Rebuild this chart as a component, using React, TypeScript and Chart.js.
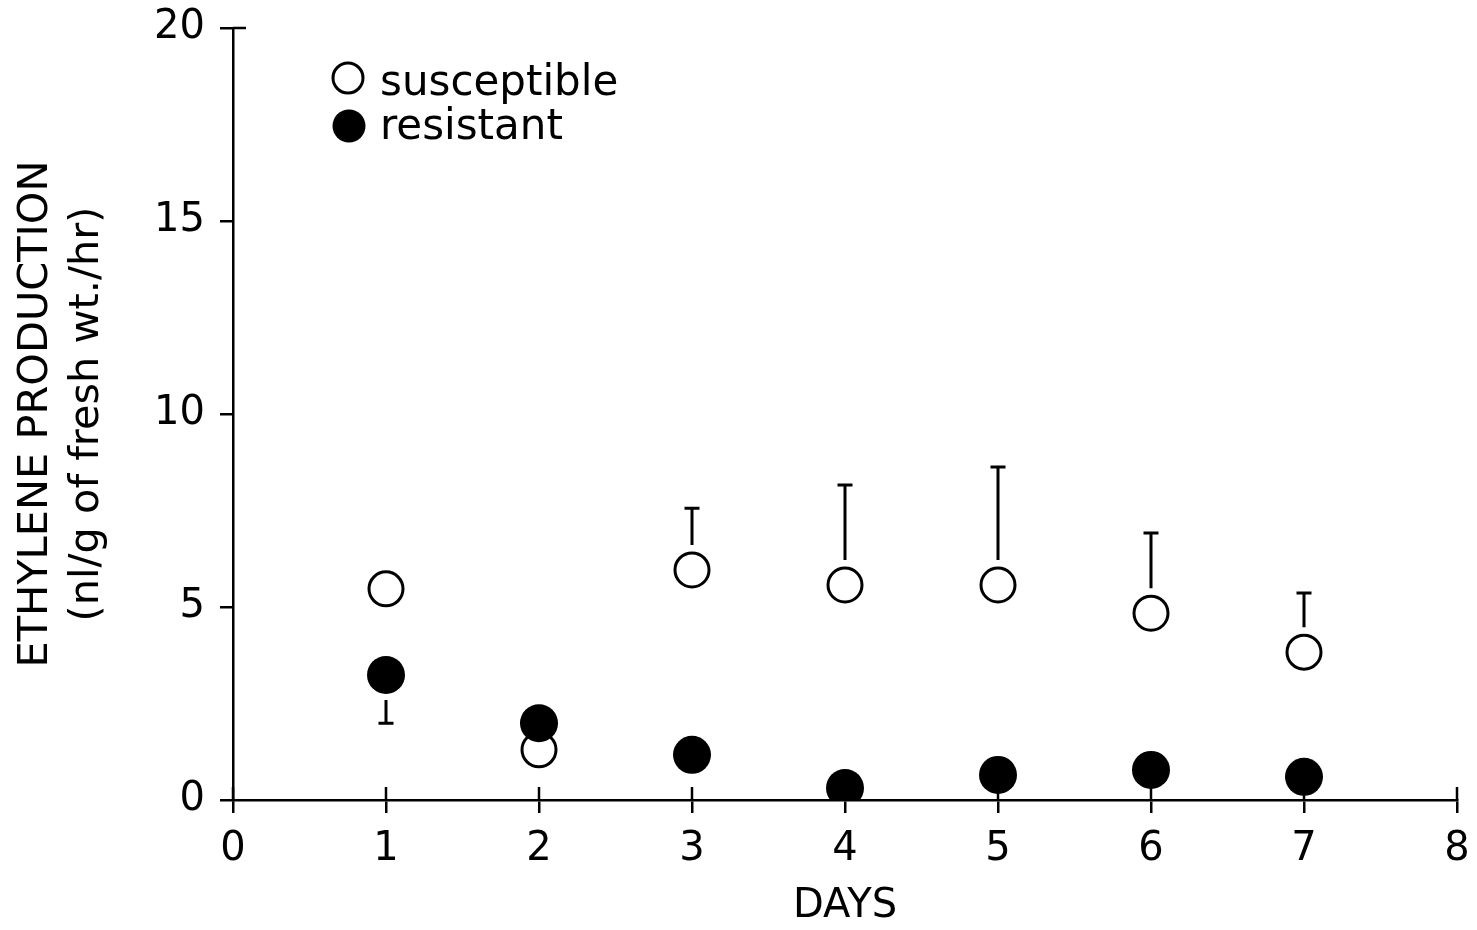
import React, { useEffect, useRef } from "react";
import { Chart, registerables } from "chart.js";

Chart.register(...registerables);

const days = [1, 2, 3, 4, 5, 6, 7];
const susceptible = [5.47, 1.3, 5.96, 5.57, 5.57, 4.84, 3.83];
const susceptibleUpper = [null, null, 7.56, 8.16, 8.63, 6.92, 5.36];
const resistant = [3.24, 1.99, 1.17, 0.31, 0.65, 0.78, 0.6];
const resistantLower = [1.99, null, null, null, null, null, null];
const xTicks = [0, 1, 2, 3, 4, 5, 6, 7, 8];
const yTicks = [0, 5, 10, 15, 20];
const yTitle = ["ETHYLENE PRODUCTION", "(nl/g of fresh wt./hr)"];
const xTitle = "DAYS";
const legendLabels = ["susceptible", "resistant"];

const FONT = "'DejaVu Sans', sans-serif";

const errorBarPlugin = {
  id: "errorBars",
  afterDatasetsDraw(chart: any) {
    const ctx = chart.ctx;
    const xs = chart.scales.x;
    const ys = chart.scales.y;
    const draw = (vals: number[], errs: (number | null)[]) => {
      errs.forEach((e, i) => {
        if (e === null || e === undefined) return;
        const px = xs.getPixelForValue(days[i]);
        const pc = ys.getPixelForValue(vals[i]);
        const pe = ys.getPixelForValue(e);
        const dir = pe > pc ? 1 : -1;
        const start = pc + dir * 25;
        ctx.save();
        ctx.strokeStyle = "#000";
        ctx.lineWidth = 3;
        ctx.beginPath();
        ctx.moveTo(px, start);
        ctx.lineTo(px, pe);
        ctx.moveTo(px - 7.5, pe);
        ctx.lineTo(px + 7.5, pe);
        ctx.stroke();
        ctx.restore();
      });
    };
    draw(susceptible, susceptibleUpper);
    draw(resistant, resistantLower);
  },
};

const innerTicksPlugin = {
  id: "innerTicks",
  afterDraw(chart: any) {
    const ctx = chart.ctx;
    const xs = chart.scales.x;
    const ys = chart.scales.y;
    const area = chart.chartArea;
    ctx.save();
    ctx.strokeStyle = "#000";
    ctx.lineWidth = 2.5;
    ctx.beginPath();
    xTicks.forEach((t) => {
      const px = xs.getPixelForValue(t);
      ctx.moveTo(px, area.bottom);
      ctx.lineTo(px, area.bottom - 13);
    });
    const ptop = ys.getPixelForValue(20);
    ctx.moveTo(area.left, ptop);
    ctx.lineTo(area.left + 13, ptop);
    ctx.stroke();
    ctx.restore();
  },
};

const legendPlugin = {
  id: "customLegend",
  afterDraw(chart: any) {
    const ctx = chart.ctx;
    const area = chart.chartArea;
    const cx = area.left + 115;
    ctx.save();
    ctx.beginPath();
    ctx.arc(cx, area.top + 50, 15, 0, Math.PI * 2);
    ctx.fillStyle = "#fff";
    ctx.fill();
    ctx.lineWidth = 3;
    ctx.strokeStyle = "#000";
    ctx.stroke();
    ctx.beginPath();
    ctx.arc(cx + 1, area.top + 98, 16.5, 0, Math.PI * 2);
    ctx.fillStyle = "#000";
    ctx.fill();
    ctx.font = `42px ${FONT}`;
    ctx.fillStyle = "#000";
    ctx.textBaseline = "alphabetic";
    ctx.textAlign = "left";
    ctx.fillText(legendLabels[0], area.left + 147, area.top + 67);
    ctx.fillText(legendLabels[1], area.left + 147, area.top + 111);
    ctx.restore();
  },
};

export default function App() {
  const ref = useRef<HTMLCanvasElement>(null);
  useEffect(() => {
    document.body.style.margin = "0";
    const canvas = ref.current;
    if (!canvas) return;
    const chart = new Chart(canvas, {
      type: "scatter",
      data: {
        datasets: [
          {
            label: legendLabels[1],
            data: days.map((d, i) => ({ x: d, y: resistant[i] })),
            pointRadius: 19,
            pointHoverRadius: 19,
            pointBackgroundColor: "#000",
            pointBorderColor: "#000",
            pointBorderWidth: 0,
            showLine: false,
          },
          {
            label: legendLabels[0],
            data: days.map((d, i) => ({ x: d, y: susceptible[i] })),
            pointRadius: 17,
            pointHoverRadius: 17,
            pointBackgroundColor: "#fff",
            pointBorderColor: "#000",
            pointBorderWidth: 3,
            showLine: false,
          },
        ],
      },
      options: {
        animation: false,
        responsive: true,
        maintainAspectRatio: false,
        layout: { padding: { top: 28, right: 20, left: 0, bottom: 0 } },
        plugins: {
          legend: { display: false },
          tooltip: { enabled: false },
        },
        scales: {
          x: {
            type: "linear",
            min: 0,
            max: 8,
            afterBuildTicks: (s: any) => {
              s.ticks = xTicks.map((v) => ({ value: v }));
            },
            afterFit: (s: any) => {
              s.height = 130;
              s.paddingLeft = 0;
              s.paddingRight = 0;
            },
            ticks: {
              color: "#000",
              font: { family: FONT, size: 40 },
              padding: 13,
              maxRotation: 0,
              callback: (v: any) => String(v),
            },
            grid: {
              drawOnChartArea: false,
              drawTicks: true,
              tickLength: 13,
              color: "#000",
              lineWidth: 2.5,
            },
            border: { display: true, color: "#000", width: 2.5 },
            title: {
              display: true,
              text: xTitle,
              color: "#000",
              font: { family: FONT, size: 40, lineHeight: 1.1 },
              padding: { top: 0, bottom: 1 },
            },
          },
          y: {
            type: "linear",
            min: 0,
            max: 20,
            afterBuildTicks: (s: any) => {
              s.ticks = yTicks.map((v) => ({ value: v }));
            },
            afterFit: (s: any) => {
              s.width = 233;
              s.paddingTop = 0;
              s.paddingBottom = 0;
            },
            ticks: {
              color: "#000",
              font: { family: FONT, size: 40 },
              padding: 15,
              callback: (v: any) => String(v),
            },
            grid: {
              drawOnChartArea: false,
              drawTicks: true,
              tickLength: 13,
              color: "#000",
              lineWidth: 2.5,
            },
            border: { display: true, color: "#000", width: 2.5 },
            title: {
              display: true,
              text: yTitle,
              color: "#000",
              font: { family: FONT, size: 41.5, lineHeight: 1.22 },
              padding: { top: 11, bottom: 0 },
            },
          },
        },
      },
      plugins: [errorBarPlugin, innerTicksPlugin, legendPlugin],
    });
    return () => chart.destroy();
  }, []);
  return (
    <div style={{ position: "relative", width: "1477px", height: "930px", background: "#fff" }}>
      <canvas ref={ref} />
    </div>
  );
}
